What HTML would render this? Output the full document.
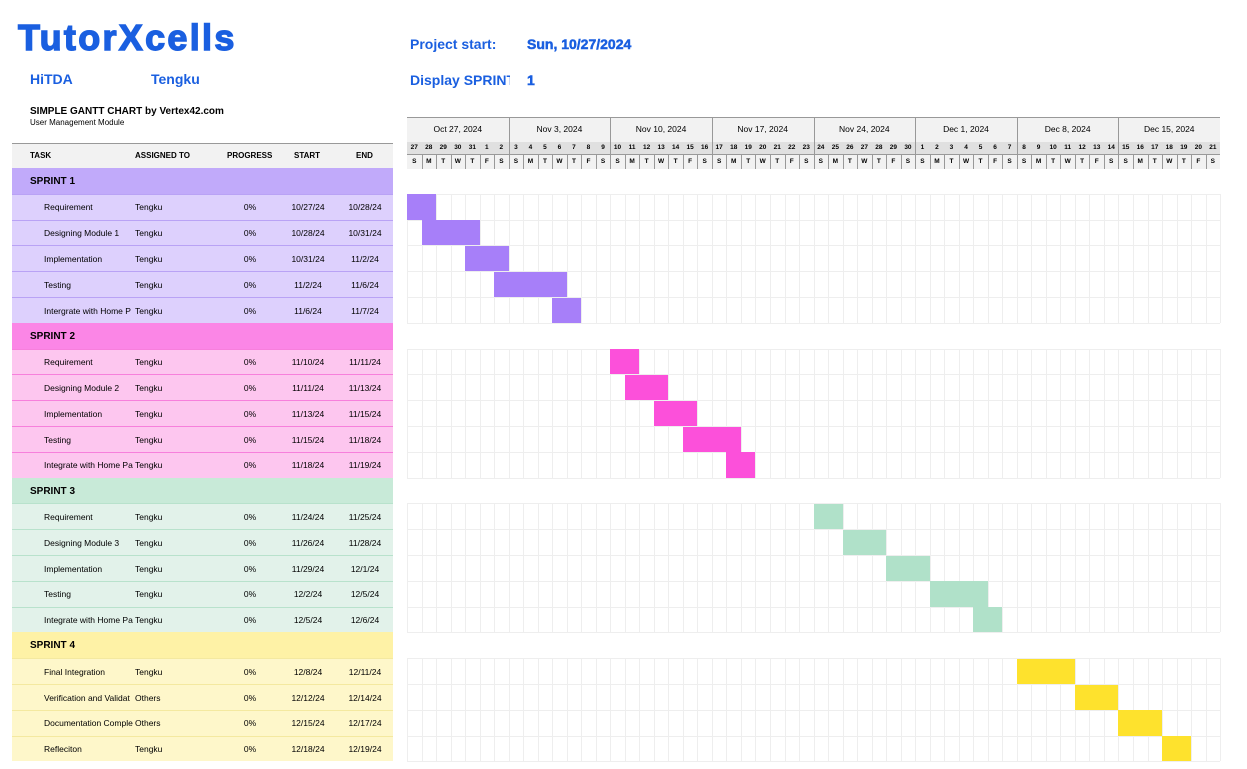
<!DOCTYPE html><html><head><meta charset="utf-8"><style>
body{margin:0;width:1247px;height:769px;background:#fff;font-family:"Liberation Sans",sans-serif;position:relative;overflow:hidden}
.a{position:absolute;white-space:nowrap}
.blue{color:#1a5fe0;font-weight:bold}
.c{position:absolute;overflow:hidden;white-space:nowrap}
</style></head><body>
<div class="a blue" style="left:18px;top:17px;font-size:36px;letter-spacing:2.3px;font-family:'Liberation Sans',sans-serif;font-weight:bold;-webkit-text-stroke:1.4px #1a5fe0">TutorXcells</div>
<div class="a blue" style="left:30px;top:71px;font-size:14px">HiTDA</div>
<div class="a blue" style="left:151px;top:71px;font-size:14px">Tengku</div>
<div class="a blue" style="left:410px;top:36px;font-size:14px">Project start:</div>
<div class="a blue" style="left:527px;top:36px;font-size:14px;-webkit-text-stroke:0.5px #1a5fe0">Sun, 10/27/2024</div>
<div class="a blue" style="left:410px;top:72px;font-size:14px;width:100px;overflow:hidden">Display SPRINT</div>
<div class="a blue" style="left:527px;top:72px;font-size:14px;-webkit-text-stroke:0.5px #1a5fe0">1</div>
<div class="a" style="left:30px;top:106px;font-size:10px;font-weight:bold">SIMPLE GANTT CHART by Vertex42.com</div>
<div class="a" style="left:30px;top:118px;font-size:8px">User Management Module</div>
<div id="root"></div>
<script>
var h='';
function box(l,t,w,ht,st,txt){h+='<div class="c" style="left:'+l+'px;top:'+t+'px;width:'+w+'px;height:'+ht+'px;'+st+'">'+(txt||'')+'</div>';}
box(12,143,381,25,'background:#f2f2f2;border-top:1px solid #999;box-sizing:border-box');
var hs=[['TASK',30],['ASSIGNED TO',135],['PROGRESS',227],['START',294],['END',356]];
hs.forEach(function(x){box(x[1],151,90,12,'font-size:8px;font-weight:bold',x[0]);});
var G=407,D=14.52;
box(G,117,813,25,'background:#f2f2f2;border-top:1px solid #999;box-sizing:border-box');
box(G,142,813,13,'background:#e0e0e0');
box(G,155,813,14,'background:#f2f2f2');
var weeks=['Oct 27, 2024','Nov 3, 2024','Nov 10, 2024','Nov 17, 2024','Nov 24, 2024','Dec 1, 2024','Dec 8, 2024','Dec 15, 2024'];
var L='SMTWTFS';
for(var i=0;i<56;i++){var x=G+i*D;var dd=new Date(2024,9,27+i).getDate();
 box(x,144,D,10,'font-size:6.5px;font-weight:bold;text-align:center',dd);
 box(x,158,D,10,'font-size:6.5px;font-weight:bold;text-align:center',L[i%7]);
 if(i%7==0){if(i>0)box(x,117,1,52,'background:#999');box(x,122,101.6,14,'font-size:8.5px;text-align:center;line-height:14px',weeks[i/7]);}
 else box(x,155,1,14,'background:#999');}
box(G,154,813,1,'background:#999');
var S=[
 {n:'SPRINT 1',hd:'#c1aafa',rw:'#ddd0fd',ln:'#b9a2f5',bar:'#a77ff9',t:[['Requirement','Tengku','10/27/24','10/28/24',0,1],['Designing Module 1','Tengku','10/28/24','10/31/24',1,4],['Implementation','Tengku','10/31/24','11/2/24',4,6],['Testing','Tengku','11/2/24','11/6/24',6,10],['Intergrate with Home P','Tengku','11/6/24','11/7/24',10,11]]},
 {n:'SPRINT 2',hd:'#fb86e6',rw:'#fdc6ef',ln:'#f77fdc',bar:'#fc50da',t:[['Requirement','Tengku','11/10/24','11/11/24',14,15],['Designing Module 2','Tengku','11/11/24','11/13/24',15,17],['Implementation','Tengku','11/13/24','11/15/24',17,19],['Testing','Tengku','11/15/24','11/18/24',19,22],['Integrate with Home Pa','Tengku','11/18/24','11/19/24',22,23]]},
 {n:'SPRINT 3',hd:'#c8ead8',rw:'#e2f2ea',ln:'#b8e2cc',bar:'#b0e1c9',t:[['Requirement','Tengku','11/24/24','11/25/24',28,29],['Designing Module 3','Tengku','11/26/24','11/28/24',30,32],['Implementation','Tengku','11/29/24','12/1/24',33,35],['Testing','Tengku','12/2/24','12/5/24',36,39],['Integrate with Home Pa','Tengku','12/5/24','12/6/24',39,40]]},
 {n:'SPRINT 4',hd:'#fef2a6',rw:'#fef7ca',ln:'#f4e9a0',bar:'#fee22d',t:[['Final Integration','Tengku','12/8/24','12/11/24',42,45],['Verification and Validat','Others','12/12/24','12/14/24',46,48],['Documentation Comple','Others','12/15/24','12/17/24',49,51],['Refleciton','Tengku','12/18/24','12/19/24',52,53]]}];
var R=25.8;
S.forEach(function(s,k){var y=168+k*6*R;
 box(12,y,381,R,'background:'+s.hd);
 box(30,y+8,100,12,'font-size:10px;font-weight:bold',s.n);
 s.t.forEach(function(t,j){var ty=y+R*(j+1);
  box(12,ty,381,R,'background:'+s.rw+';border-top:1px solid '+s.ln+';box-sizing:border-box');
  box(44,ty+8.5,90,11,'font-size:8.5px',t[0]);
  box(135,ty+8.5,60,11,'font-size:8.5px',t[1]);
  box(225,ty+8.5,50,11,'font-size:8.5px;text-align:center','0%');
  box(283,ty+8.5,50,11,'font-size:8.5px;text-align:center',t[2]);
  box(340,ty+8.5,50,11,'font-size:8.5px;text-align:center',t[3]);
  for(var i=0;i<=56;i++)box(G+i*D,ty,1,R,'background:#eee');
  box(G,ty,813,1,'background:#eee');
  box(G+t[4]*D,ty+0.5,(t[5]-t[4]+1)*D,R-0.5,'background:'+s.bar);
 });
 box(G,y+R*(s.t.length+1),813,1,'background:#eee');
});
document.getElementById('root').innerHTML=h;
</script>
</body></html>
